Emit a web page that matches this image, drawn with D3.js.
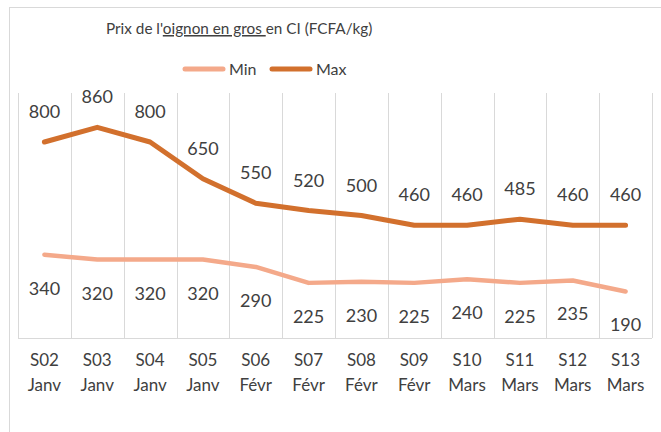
<!DOCTYPE html>
<html>
<head>
<meta charset="utf-8">
<script src="https://cdn.jsdelivr.net/npm/d3@7"></script>
<style>
  body { margin: 0; background: #fff; }
  text { font-family: Lato, "Open Sans", sans-serif; fill: #404040; }
</style>
</head>
<body>
<script>
var w = 661;
var h = 432;

var weeks = ["S02","S03","S04","S05","S06","S07","S08","S09","S10","S11","S12","S13"];
var months = ["Janv","Janv","Janv","Janv","Févr","Févr","Févr","Févr","Mars","Mars","Mars","Mars"];
var minVals = [340, 320, 320, 320, 290, 225, 230, 225, 240, 225, 235, 190];
var maxVals = [800, 860, 800, 650, 550, 520, 500, 460, 460, 485, 460, 460];

var svg = d3.select("body").append("svg")
  .attr("width", w).attr("height", h);

// chart frame
svg.append("rect")
  .attr("x", 9.5).attr("y", 7.5)
  .attr("width", 700).attr("height", 500)
  .attr("fill", "none").attr("stroke", "#d9d9d9");

var x = d3.scaleBand().domain(d3.range(weeks.length)).range([18, 652]);
var y = d3.scaleLinear().domain([0, 1000]).range([338, 93]);

// vertical gridlines between categories
var edges = d3.range(weeks.length + 1).map(function(i){
  return i < weeks.length ? x(i) : x(i - 1) + x.bandwidth();
});
svg.selectAll("line.grid")
  .data(edges)
  .enter().append("line")
  .attr("class", "grid")
  .attr("x1", function(d){ return Math.round(d) + 0.5; })
  .attr("x2", function(d){ return Math.round(d) + 0.5; })
  .attr("y1", y(1000)).attr("y2", y(0))
  .attr("stroke", "#d9d9d9");

svg.append("line")
  .attr("x1", 18).attr("x2", 652)
  .attr("y1", y(0) + 0.5).attr("y2", y(0) + 0.5)
  .attr("stroke", "#d9d9d9");

// category labels, two lines
var cat = svg.selectAll("text.cat")
  .data(weeks)
  .enter().append("text")
  .attr("class", "cat")
  .attr("text-anchor", "middle")
  .style("font-size", "17px");
cat.append("tspan")
  .attr("x", function(d, i){ return x(i) + x.bandwidth() / 2; })
  .attr("y", 366)
  .text(function(d){ return d; });
cat.append("tspan")
  .attr("x", function(d, i){ return x(i) + x.bandwidth() / 2; })
  .attr("y", 391)
  .text(function(d, i){ return months[i]; });

var line = d3.line()
  .x(function(d, i){ return x(i) + x.bandwidth() / 2; })
  .y(function(d){ return y(d); });

var series = [
  {name: "Min", vals: minVals, color: "#f4a98a", width: 4.5, dy: 40},
  {name: "Max", vals: maxVals, color: "#d2702d", width: 5, dy: -24}
];

series.forEach(function(s){
  svg.append("path")
    .datum(s.vals)
    .attr("d", line)
    .attr("fill", "none")
    .attr("stroke", s.color)
    .attr("stroke-width", s.width)
    .attr("stroke-linejoin", "round")
    .attr("stroke-linecap", "round");

  svg.selectAll("text.lbl" + s.name)
    .data(s.vals)
    .enter().append("text")
    .attr("text-anchor", "middle")
    .style("font-size", "18px")
    .attr("x", function(d, i){ return x(i) + x.bandwidth() / 2; })
    .attr("y", function(d){ return y(d) + s.dy; })
    .text(function(d){ return d; });
});

// title
var title = svg.append("text")
  .attr("x", 106).attr("y", 34)
  .style("font-size", "15.3px");
title.append("tspan").text("Prix de l'");
title.append("tspan").style("text-decoration", "underline").text("oignon en gros ");
title.append("tspan").text("en CI (FCFA/kg)");

// legend
var leg = svg.selectAll("g.leg")
  .data(series)
  .enter().append("g")
  .attr("class", "leg")
  .attr("transform", function(d, i){ return "translate(" + (185 + i * 87) + ",69)"; });
leg.append("line")
  .attr("x1", 0).attr("x2", 38)
  .attr("stroke", function(d){ return d.color; })
  .attr("stroke-width", 5)
  .attr("stroke-linecap", "round");
leg.append("text")
  .attr("x", 44).attr("y", 6)
  .style("font-size", "16px")
  .text(function(d){ return d.name; });
</script>
</body>
</html>
